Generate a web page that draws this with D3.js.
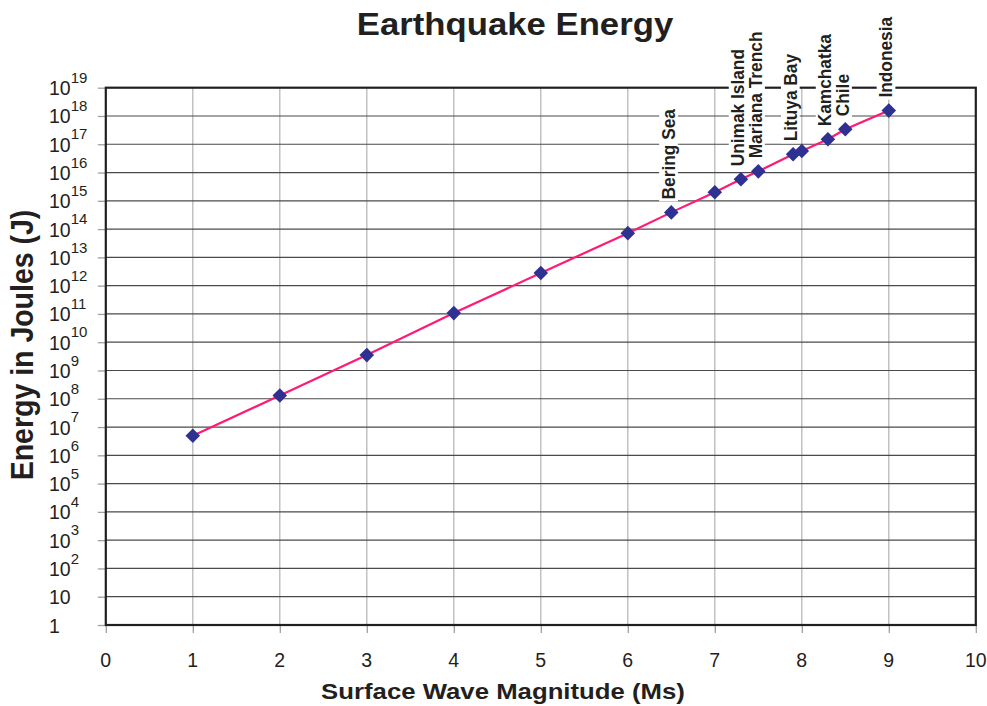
<!DOCTYPE html>
<html>
<head>
<meta charset="utf-8">
<script src="https://cdn.jsdelivr.net/npm/d3@7"></script>
<style>
  body { margin: 0; background: #fff; }
  svg text { font-family: "Liberation Sans", Arial, Helvetica, sans-serif; fill: #231f20; }
</style>
</head>
<body>
<svg id="chart" width="987" height="706"></svg>
<script>
// magnitudes (Ms) and energy (J)
const magnitudes = [1, 2, 3, 4, 5, 6, 6.5, 7, 7.3, 7.5, 7.9, 8, 8.3, 8.5, 9];
const energies = [4.9e6, 1.3e8, 3.5e9, 1.07e11, 2.8e12, 7.2e13, 3.9e14, 2.0e15, 5.8e15, 1.1e16, 4.4e16, 5.8e16, 1.5e17, 3.4e17, 1.55e18];

// labelled earthquakes
const quakeNames = ['Bering Sea', 'Unimak Island', 'Mariana Trench', 'Lituya Bay', 'Kamchatka', 'Chile', 'Indonesia'];
const quakeMagnitudes = [6.5, 7.3, 7.5, 7.9, 8.3, 8.5, 9];

const xTicks = [0, 1, 2, 3, 4, 5, 6, 7, 8, 9, 10];
const yExponents = d3.range(0, 20);

const svg = d3.select('#chart');
const plotLeft = 105.8, plotRight = 975.8, plotTop = 87.7, plotBottom = 625;

const x = d3.scaleLinear().domain([0, 10]).range([plotLeft, plotRight]);
const y = d3.scaleLog().domain([1, 1e19]).range([plotBottom, plotTop]);

const data = magnitudes.map((m, i) => ({ m, e: energies[i] }));

// vertical grid
svg.append('g')
  .selectAll('line')
  .data(xTicks.slice(1, -1))
  .enter().append('line')
  .attr('x1', d => x(d)).attr('x2', d => x(d))
  .attr('y1', plotTop).attr('y2', plotBottom)
  .attr('stroke', '#b8b8b8').attr('stroke-width', 1.3);

// horizontal grid
svg.append('g')
  .selectAll('line')
  .data(yExponents.slice(1, -1))
  .enter().append('line')
  .attr('x1', plotLeft).attr('x2', plotRight)
  .attr('y1', d => y(Math.pow(10, d))).attr('y2', d => y(Math.pow(10, d)))
  .attr('stroke', '#4a4a4a').attr('stroke-width', 1.2);

// tick marks
svg.append('g')
  .attr('transform', `translate(${plotLeft},0)`)
  .call(d3.axisLeft(y).tickValues(yExponents.map(e => Math.pow(10, e))).tickSize(8).tickFormat(''))
  .call(g => g.select('.domain').remove())
  .call(g => g.selectAll('line').attr('stroke', '#a0a0a0').attr('stroke-width', 1.3));

svg.append('g')
  .attr('transform', `translate(0,${plotBottom})`)
  .call(d3.axisBottom(x).tickValues(xTicks).tickSize(8).tickFormat(''))
  .call(g => g.select('.domain').remove())
  .call(g => g.selectAll('line').attr('stroke', '#a0a0a0').attr('stroke-width', 1.3));

// frame
svg.append('rect')
  .attr('x', plotLeft).attr('y', plotTop)
  .attr('width', plotRight - plotLeft).attr('height', plotBottom - plotTop)
  .attr('fill', 'none').attr('stroke', '#231f20').attr('stroke-width', 2.2);

// y tick labels with superscripts
const yLab = svg.append('g').selectAll('text')
  .data(yExponents)
  .enter().append('text')
  .attr('x', 49)
  .attr('y', d => y(Math.pow(10, d)) + 7.5)
  .attr('font-size', '19.5px');
yLab.append('tspan').text(d => d === 0 ? '1' : '10');
yLab.filter(d => d > 1).append('tspan')
  .attr('font-size', '15px')
  .attr('dy', -12.3)
  .text(d => d);

// x tick labels
svg.append('g').selectAll('text')
  .data(xTicks)
  .enter().append('text')
  .attr('x', d => x(d))
  .attr('y', 667)
  .attr('text-anchor', 'middle')
  .attr('font-size', '19.5px')
  .text(d => d);

// quake labels with white backing
const energyAt = m => energies[magnitudes.indexOf(m)];
quakeNames.forEach((name, i) => {
  const m = quakeMagnitudes[i];
  const g = svg.append('g')
    .attr('transform', `translate(${x(m) + 3.5},${y(energyAt(m)) - 13}) scale(1.1,1) rotate(-90)`);
  const t = g.append('text')
    .attr('font-size', '17.3px')
    .attr('font-weight', 'bold')
    .text(name);
  const b = t.node().getBBox();
  g.insert('rect', 'text')
    .attr('x', b.x - 2).attr('y', b.y + 1)
    .attr('width', b.width + 4).attr('height', b.height - 2)
    .attr('fill', '#fff');
});

// line
svg.append('path')
  .datum(data)
  .attr('fill', 'none')
  .attr('stroke', '#ff1a75')
  .attr('stroke-width', 2.2)
  .attr('d', d3.line().x(d => x(d.m)).y(d => y(d.e)));

// diamond markers
svg.append('g').selectAll('path')
  .data(data)
  .enter().append('path')
  .attr('transform', d => `translate(${x(d.m)},${y(d.e)}) rotate(45)`)
  .attr('d', d3.symbol().type(d3.symbolSquare).size(106))
  .attr('fill', '#2e3192');

// titles
svg.append('text')
  .attr('transform', 'translate(515,35) scale(1.12,1)')
  .attr('text-anchor', 'middle')
  .attr('font-size', '31px')
  .attr('font-weight', 'bold')
  .text('Earthquake Energy');

svg.append('text')
  .attr('transform', 'translate(503,699) scale(1.12,1)')
  .attr('text-anchor', 'middle')
  .attr('font-size', '23px')
  .attr('font-weight', 'bold')
  .text('Surface Wave Magnitude (Ms)');

svg.append('text')
  .attr('transform', 'translate(33,345) scale(1.1,1) rotate(-90)')
  .attr('text-anchor', 'middle')
  .attr('font-size', '28.5px')
  .attr('font-weight', 'bold')
  .text('Energy in Joules (J)');
</script>
</body>
</html>
